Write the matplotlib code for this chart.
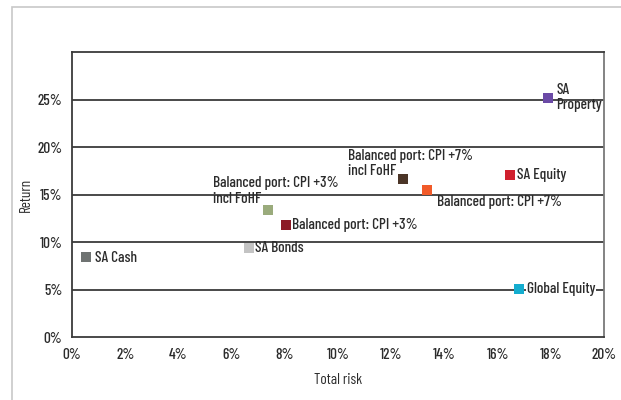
import matplotlib.pyplot as plt
from matplotlib import font_manager
from matplotlib.patches import Rectangle

names = ["SA Cash", "SA Bonds", "Balanced port: CPI +3%\nincl FoHF", "Balanced port: CPI +3%",
         "Balanced port: CPI +7%\nincl FoHF", "Balanced port: CPI +7%", "SA Equity",
         "SA\nProperty", "Global Equity"]
risk = [0.53, 6.65, 7.37, 8.05, 12.44, 13.35, 16.47, 17.9, 16.8]
ret = [8.4, 9.4, 13.4, 11.8, 16.6, 15.5, 17.05, 25.2, 5.05]
colors = ["#6f7372", "#c3c3c3", "#9aab7c", "#8c1b26", "#4b3527", "#f15a29",
          "#d0202e", "#6b4aa6", "#14adcf"]
# label offsets in pixels (dx, dy) and alignment
offsets = [(9, -1, "left", "center"), (6, 0, "left", "center"), (-55, 4, "left", "bottom"),
           (6, 0, "left", "center"), (-55, 1, "left", "bottom"), (10, -5, "left", "top"),
           (7, 0, "left", "center"), (8, 0, "left", "center"), (8, 0, "left", "center")]

avail = {f.name for f in font_manager.fontManager.ttflist}
for fam in ["Barlow Condensed", "Barlow Semi Condensed", "Roboto Condensed", "DejaVu Sans"]:
    if fam in avail:
        break
plt.rcParams["font.family"] = fam
plt.rcParams["font.weight"] = "medium"
fs = 11
txt = "#2b2b2b"

fig = plt.figure(figsize=(6.21, 4.0), dpi=100)
ax = fig.add_axes([0.116, 0.157, 0.857, 0.713])
fig.patches.append(Rectangle((12 / 621, -0.1), 1.2, (1 - 7 / 400) + 0.1, transform=fig.transFigure,
                             fill=False, ec="#c8c8c8", lw=1.2))

for y in range(5, 30, 5):
    ax.axhline(y, color="#3a3a3a", lw=1.3, zorder=1)

for x, y, c, n, (dx, dy, ha, va) in zip(risk, ret, colors, names, offsets):
    ax.scatter(x, y, marker="s", s=42, color=c, zorder=3, linewidths=0)
    bbox = dict(fc="white", ec="none", pad=0.5) if n == "Global Equity" else None
    ax.annotate(n, (x, y), xytext=(dx, dy), textcoords="offset pixels", ha=ha, va=va,
                color=txt, fontsize=fs, linespacing=1.15, zorder=4, bbox=bbox)

ax.set_xlim(0, 20)
ax.set_ylim(0, 30)
ax.set_xticks(range(0, 21, 2))
ax.set_xticklabels([f"{v}%" for v in range(0, 21, 2)])
ax.set_yticks(range(0, 26, 5))
ax.set_yticklabels([f"{v}%" for v in range(0, 26, 5)])
ax.tick_params(length=0, colors=txt, labelsize=fs)
ax.tick_params(axis="x", pad=8)
ax.tick_params(axis="y", pad=7)
for s in ax.spines.values():
    s.set_color("#3a3a3a")
    s.set_linewidth(1.3)
ax.spines["right"].set_color("#7a7a7a")

ax.set_xlabel("Total risk", color=txt, fontsize=fs, labelpad=8)
ax.set_ylabel("Return", color=txt, fontsize=fs, labelpad=3)

fig.savefig("out.png", dpi=100)
